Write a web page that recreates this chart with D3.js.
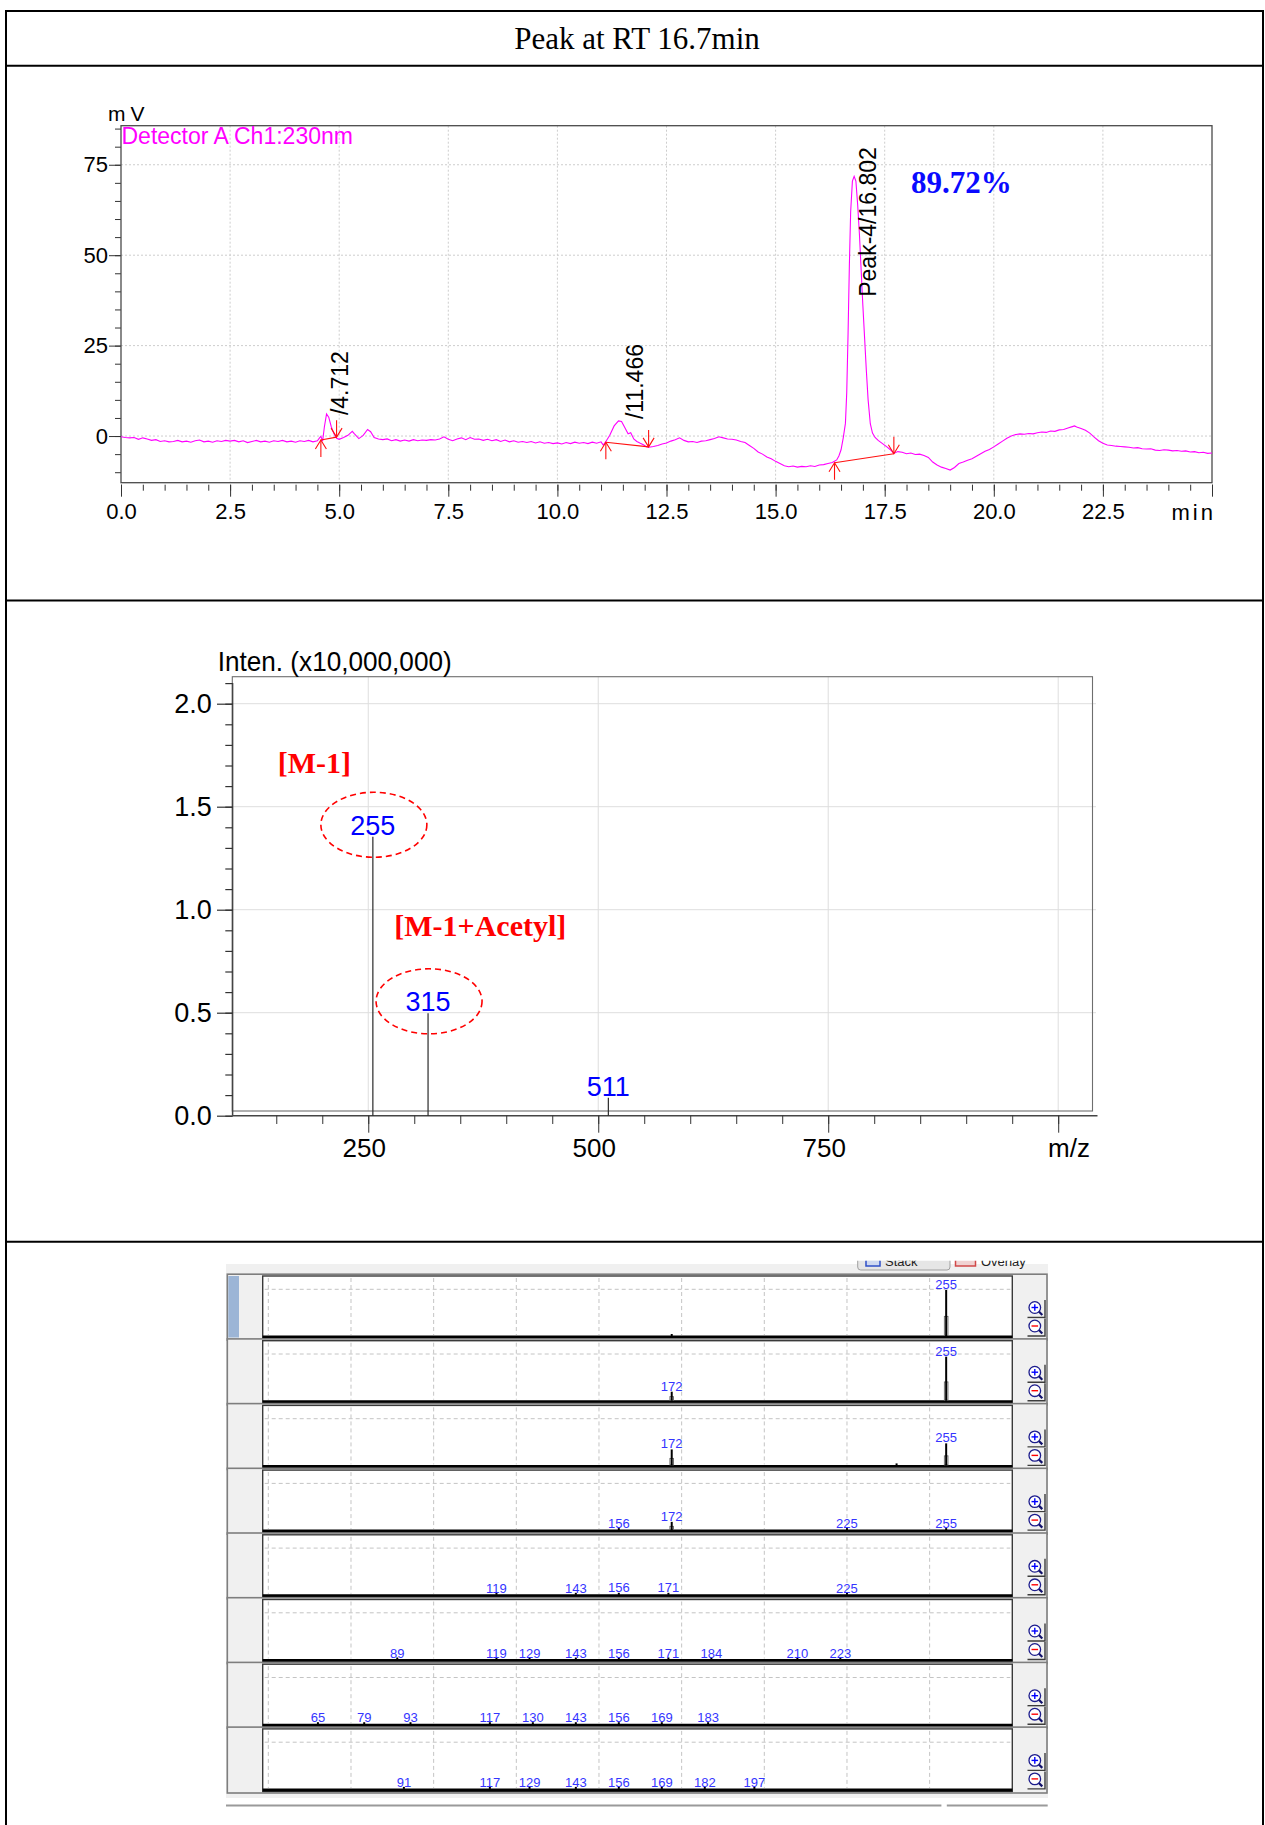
<!DOCTYPE html>
<html>
<head>
<meta charset="utf-8">
<script src="https://cdn.jsdelivr.net/npm/d3@7"></script>
<style>
  body { margin: 0; background: #fff; }
  svg { display: block; }
  text { font-family: "Liberation Sans", Arial, sans-serif; }
</style>
</head>
<body>
<svg id="fig" width="1265" height="1825"></svg>
<script>
// ---------------- data ----------------
const titleText = "Peak at RT 16.7min";

// HPLC trace, Detector A Ch1:230nm  [time (min), signal (mV)]
const chromTrace = [
  [0.0,-0.2],[0.1,-0.4],[0.2,-0.5],[0.3,-0.4],[0.4,-0.9],[0.5,-0.5],[0.6,-0.8],[0.7,-1.2],[0.8,-1.0],[0.9,-1.5],
  [1.0,-1.3],[1.1,-1.6],[1.2,-1.5],[1.3,-1.2],[1.4,-1.6],[1.5,-1.4],[1.6,-1.7],[1.7,-1.3],[1.8,-1.1],[1.9,-1.6],
  [2.0,-1.4],[2.1,-1.7],[2.2,-1.3],[2.3,-1.5],[2.4,-1.2],[2.5,-1.4],[2.6,-1.2],[2.7,-1.6],[2.8,-1.3],[2.9,-1.8],
  [3.0,-1.5],[3.1,-1.2],[3.2,-1.6],[3.3,-1.4],[3.4,-1.7],[3.5,-1.3],[3.6,-1.5],[3.7,-1.2],[3.8,-1.6],[3.9,-1.4],
  [4.0,-1.7],[4.1,-1.3],[4.2,-1.5],[4.3,-1.2],[4.4,-1.6],[4.5,-1.3],[4.55,-0.5],[4.58,-0.1],[4.62,-1.4],[4.66,2.5],
  [4.71,6.1],[4.76,5.2],[4.82,2.5],[4.88,0.6],[4.94,-0.6],[5.0,-0.9],[5.1,-0.4],[5.2,0.2],[5.3,1.3],[5.35,0.6],
  [5.45,-0.7],[5.55,0.2],[5.65,1.8],[5.72,1.2],[5.8,-0.4],[5.9,-0.8],[6.0,-1.0],[6.1,-0.8],[6.2,-1.3],[6.3,-1.0],
  [6.4,-1.4],[6.5,-1.1],[6.6,-1.4],[6.7,-1.0],[6.8,-1.3],[6.9,-1.1],[7.0,-1.2],[7.1,-1.0],[7.2,-1.1],[7.3,-0.8],
  [7.4,-0.2],[7.5,-0.9],[7.6,-1.3],[7.7,-0.8],[7.8,-0.5],[7.9,-1.0],[8.0,-0.4],[8.1,-0.9],[8.2,-0.8],[8.3,-1.2],
  [8.4,-0.9],[8.5,-1.3],[8.6,-1.0],[8.7,-1.5],[8.8,-1.1],[8.9,-1.6],[9.0,-1.3],[9.1,-1.7],[9.2,-1.5],[9.3,-1.8],
  [9.4,-1.5],[9.5,-1.9],[9.6,-1.6],[9.7,-2.0],[9.8,-1.8],[9.9,-2.1],[10.0,-1.9],[10.1,-2.2],[10.2,-1.8],[10.3,-2.1],
  [10.4,-1.7],[10.5,-2.0],[10.6,-1.8],[10.7,-2.1],[10.8,-1.7],[10.9,-2.0],[11.0,-1.6],[11.05,-2.5],[11.1,-1.7],[11.2,0.2],
  [11.3,2.8],[11.4,4.2],[11.47,4.0],[11.55,2.2],[11.62,0.6],[11.68,0.9],[11.75,-0.8],[11.82,-1.5],[11.9,-2.0],[11.97,-2.4],
  [12.05,-3.0],[12.1,-3.1],[12.2,-2.9],[12.3,-2.6],[12.4,-2.2],[12.5,-1.9],[12.6,-1.4],[12.7,-1.0],[12.8,-0.5],[12.9,-1.2],
  [13.0,-1.6],[13.1,-1.5],[13.2,-1.8],[13.3,-1.4],[13.4,-1.3],[13.5,-1.0],[13.6,-0.7],[13.7,-0.2],[13.8,-0.5],[13.9,-0.8],
  [14.0,-0.9],[14.1,-1.1],[14.2,-1.5],[14.3,-1.8],[14.4,-2.6],[14.5,-3.4],[14.6,-4.4],[14.7,-5.0],[14.8,-5.8],[14.9,-6.3],
  [15.0,-7.0],[15.1,-7.6],[15.2,-8.2],[15.3,-8.5],[15.4,-8.3],[15.5,-8.6],[15.6,-8.4],[15.7,-8.5],[15.8,-8.2],[15.9,-8.4],
  [16.0,-8.0],[16.1,-7.9],[16.2,-7.6],[16.3,-7.3],[16.4,-6.6],[16.45,-5.5],[16.5,-3.8],[16.55,-0.5],[16.6,3.5],[16.63,12],
  [16.66,28],[16.69,47],[16.72,62],[16.76,70.5],[16.8,71.8],[16.84,70.5],[16.88,64],[16.92,56],[16.96,46],[17.0,36],
  [17.04,27],[17.08,18],[17.12,10],[17.17,3.4],[17.22,0.8],[17.28,-0.4],[17.35,-1.2],[17.45,-2.1],[17.55,-3.0],[17.65,-4.0],
  [17.71,-4.8],[17.8,-4.3],[17.9,-4.5],[18.0,-4.9],[18.1,-4.7],[18.2,-5.1],[18.3,-5.0],[18.4,-5.4],[18.5,-5.9],[18.6,-7.2],
  [18.7,-8.0],[18.8,-8.6],[18.9,-9.0],[19.0,-9.4],[19.1,-8.7],[19.2,-7.6],[19.3,-7.2],[19.4,-6.7],[19.5,-6.3],[19.6,-5.6],
  [19.7,-4.9],[19.8,-4.2],[19.9,-3.7],[20.0,-3.0],[20.1,-2.2],[20.2,-1.4],[20.3,-0.6],[20.4,0.0],[20.5,0.4],[20.6,0.6],
  [20.7,0.5],[20.8,0.7],[20.9,0.6],[21.0,0.9],[21.1,1.1],[21.2,1.0],[21.3,1.4],[21.4,1.3],[21.5,1.7],[21.6,1.8],
  [21.7,2.2],[21.8,2.6],[21.85,2.8],[21.9,2.5],[22.0,2.1],[22.1,1.6],[22.2,0.8],[22.3,-0.3],[22.4,-1.3],[22.5,-2.0],
  [22.6,-2.5],[22.7,-2.6],[22.8,-2.8],[22.9,-2.9],[23.0,-3.0],[23.1,-3.1],[23.2,-3.3],[23.3,-3.2],[23.4,-3.5],[23.5,-3.6],
  [23.6,-3.5],[23.7,-3.9],[23.8,-4.0],[23.9,-3.8],[24.0,-3.9],[24.1,-4.1],[24.2,-4.0],[24.3,-4.2],[24.4,-4.1],[24.5,-4.4],
  [24.6,-4.3],[24.7,-4.6],[24.8,-4.5],[24.9,-4.8],[25.0,-4.7]
];
const chromXTicks = [0, 2.5, 5, 7.5, 10, 12.5, 15, 17.5, 20, 22.5];
const chromYTicks = [0, 25, 50, 75];
const peakRT = [4.712, 11.466, 16.802];
const peakLabels = ["/4.712", "/11.466", "Peak-4/16.802"];
const peakLabelBase = [5.8, 4.7, 38.5];          // mV level where each label starts
// integration baselines [t start, mV start, t end, mV end]
const integrationBaselines = [
  [4.58, -1.1, 4.94, -0.3],
  [11.11, -1.7, 12.09, -3.0],
  [16.35, -7.4, 17.71, -4.9]
];
const areaPercent = "89.72%";

// MS spectrum (intensity x10,000,000)
const msMz = [255, 315, 511];
const msIntensity = [1.354, 0.497, 0.087];
const msXTicks = [250, 500, 750];
const msYTicks = [0, 0.5, 1.0, 1.5, 2.0];
const msCircled = [255, 315];
const msAnnotations = ["[M-1]", "[M-1+Acetyl]"];

// MS/MS scan stack: [m/z, relative intensity %, labelled]
const scanRows = [
  [[172, 2, 0], [255, 100, 1]],
  [[172, 18.7, 1], [255, 95.6, 1]],
  [[172, 34, 1], [240, 3, 0], [255, 47.3, 1]],
  [[156, 0.5, 1], [172, 17, 1], [225, 0.5, 1], [255, 2, 1]],
  [[119, 1, 1], [143, 1, 1], [156, 2, 1], [171, 2, 1], [225, 1, 1]],
  [[89, 1, 1], [119, 1, 1], [129, 1, 1], [143, 1, 1], [156, 1, 1], [171, 1, 1], [184, 1, 1], [210, 1, 1], [223, 1, 1]],
  [[65, 1, 1], [79, 1, 1], [93, 1, 1], [117, 1, 1], [130, 1, 1], [143, 1, 1], [156, 1, 1], [169, 1, 1], [183, 1, 1]],
  [[91, 1, 1], [117, 1, 1], [129, 1, 1], [143, 1, 1], [156, 1, 1], [169, 1, 1], [182, 1, 1], [197, 1, 1]]
];
const scanGrid = [50, 75, 100, 125, 150, 175, 200, 225, 250];
const viewModes = ["Stack", "Overlay"];

// ---------------- drawing ----------------
const svg = d3.select("#fig");
const defs = svg.append("defs");

// table frame
const tbl = svg.append("g").attr("stroke", "#000").attr("stroke-width", 2);
[11, 65.7, 600.5, 1241.7].forEach(y =>
  tbl.append("line").attr("x1", 5).attr("x2", 1264).attr("y1", y).attr("y2", y));
[6, 1263].forEach(x =>
  tbl.append("line").attr("x1", x).attr("x2", x).attr("y1", 10).attr("y2", 1825));

svg.append("text").attr("x", 637).attr("y", 49).attr("text-anchor", "middle")
  .style("font-family", "'Liberation Serif','Times New Roman',serif")
  .style("font-size", "31px").text(titleText);

// ===== chromatogram =====
const C = { left: 121, right: 1212, top: 125.7, bottom: 482.7 };
const xC = d3.scaleLinear().domain([0, 25]).range([C.left, C.right]);
const yC = d3.scaleLinear().domain([-12.9, 85.8]).range([C.bottom, C.top]);
const gC = svg.append("g");

gC.append("g").selectAll("line").data(chromXTicks.filter(d => d > 0)).join("line")
  .attr("x1", d => xC(d)).attr("x2", d => xC(d)).attr("y1", C.top).attr("y2", C.bottom)
  .attr("stroke", "#cdcdcd").attr("stroke-dasharray", "2,2");
gC.append("g").selectAll("line").data(chromYTicks).join("line")
  .attr("x1", C.left).attr("x2", C.right).attr("y1", d => yC(d)).attr("y2", d => yC(d))
  .attr("stroke", "#cdcdcd").attr("stroke-dasharray", "2,2");

function styleAxis(g, size) {
  g.select(".domain").remove();
  g.selectAll(".tick line").attr("stroke", "#333");
  g.selectAll(".tick text").attr("fill", "#000").style("font-size", size + "px")
    .style("font-family", "'Liberation Sans', Arial, sans-serif");
}

gC.append("g").attr("transform", `translate(0,${C.bottom + 2})`)
  .call(d3.axisBottom(xC).tickValues(d3.range(0, 25.01, 0.5)).tickSize(6).tickFormat(""))
  .call(g => styleAxis(g, 22));
gC.append("g").attr("transform", `translate(0,${C.bottom + 2})`)
  .call(d3.axisBottom(xC).tickValues([...chromXTicks, 25]).tickSize(12).tickPadding(7)
    .tickFormat(d => d === 25 ? "" : d3.format(".1f")(d)))
  .call(g => styleAxis(g, 22));
gC.append("text").attr("x", 1216).attr("y", 519.5).attr("text-anchor", "end")
  .style("font-size", "22px").attr("letter-spacing", 3).text("min");

gC.append("g").attr("transform", `translate(${C.left},0)`)
  .call(d3.axisLeft(yC).tickValues(d3.range(-10, 86, 5)).tickSize(6).tickFormat(""))
  .call(g => styleAxis(g, 22));
gC.append("g").attr("transform", `translate(${C.left},0)`)
  .call(d3.axisLeft(yC).tickValues(chromYTicks).tickSize(12).tickPadding(1))
  .call(g => styleAxis(g, 22));

gC.append("rect").attr("x", C.left).attr("y", C.top)
  .attr("width", C.right - C.left).attr("height", C.bottom - C.top)
  .attr("fill", "none").attr("stroke", "#4a4a4a").attr("stroke-width", 1.3);

gC.append("text").attr("x", 108).attr("y", 120.5).style("font-size", "21px")
  .attr("letter-spacing", 5).text("mV");
gC.append("text").attr("x", 121.5).attr("y", 144).style("font-size", "23px")
  .attr("fill", "#ff00ff").text("Detector A Ch1:230nm");

defs.append("clipPath").attr("id", "clipC").append("rect")
  .attr("x", C.left).attr("y", C.top).attr("width", C.right - C.left).attr("height", C.bottom - C.top);
gC.append("path").datum(chromTrace)
  .attr("clip-path", "url(#clipC)")
  .attr("d", d3.line().x(d => xC(d[0])).y(d => yC(d[1])))
  .attr("fill", "none").attr("stroke", "#ff00ff").attr("stroke-width", 1.1);

// integration baselines with start / end markers
const gI = gC.append("g").attr("stroke", "#ff1010").attr("stroke-width", 1.1).attr("fill", "none");
integrationBaselines.forEach(b => {
  const x1 = xC(b[0]), y1 = yC(b[1]), x2 = xC(b[2]), y2 = yC(b[3]);
  gI.append("line").attr("x1", x1).attr("y1", y1).attr("x2", x2).attr("y2", y2);
  gI.append("line").attr("x1", x1).attr("y1", y1).attr("x2", x1).attr("y2", y1 + 17);
  gI.append("path").attr("d", `M${x1 - 5.5},${y1 + 9}L${x1},${y1}L${x1 + 5.5},${y1 + 9}`);
  gI.append("line").attr("x1", x2).attr("y1", y2 - 17).attr("x2", x2).attr("y2", y2);
  gI.append("path").attr("d", `M${x2 - 5.5},${y2 - 9}L${x2},${y2}L${x2 + 5.5},${y2 - 9}`);
});

peakRT.forEach((rt, i) => {
  const x = xC(rt) + 21.5, y = yC(peakLabelBase[i]);
  gC.append("text").attr("x", x).attr("y", y).attr("transform", `rotate(-90,${x},${y})`)
    .style("font-size", "23px").attr("fill", "#000").text(peakLabels[i]);
});

gC.append("text").attr("x", 911).attr("y", 192.7)
  .style("font-family", "'Liberation Serif','Times New Roman',serif")
  .style("font-size", "31px").style("font-weight", "bold").attr("fill", "#0a0aff").text(areaPercent);

// ===== mass spectrum =====
const M = { left: 232.3, right: 1092.5, top: 676.7, bottom: 1111, axisY: 1115.7, axisX: 232.6 };
const xM = d3.scaleLinear().domain([102.2, 1037.3]).range([M.left, M.right]);
const yM = d3.scaleLinear().domain([0, 2]).range([M.axisY, M.axisY - 412]);
const gM = svg.append("g");

gM.append("g").selectAll("line").data(msYTicks.filter(d => d > 0)).join("line")
  .attr("x1", M.left).attr("x2", 1096).attr("y1", d => yM(d)).attr("y2", d => yM(d))
  .attr("stroke", "#dedede");
gM.append("g").selectAll("line").data([...msXTicks, 1000]).join("line")
  .attr("x1", d => xM(d)).attr("x2", d => xM(d)).attr("y1", M.top).attr("y2", M.bottom)
  .attr("stroke", "#dedede");
gM.append("rect").attr("x", M.left).attr("y", M.top)
  .attr("width", M.right - M.left).attr("height", M.bottom - M.top)
  .attr("fill", "none").attr("stroke", "#6e6e6e").attr("stroke-width", 1.1);

gM.append("line").attr("x1", M.axisX).attr("x2", M.axisX).attr("y1", yM(2.1)).attr("y2", M.axisY)
  .attr("stroke", "#444").attr("stroke-width", 1.5);
gM.append("line").attr("x1", M.axisX).attr("x2", 1097.5).attr("y1", M.axisY).attr("y2", M.axisY)
  .attr("stroke", "#444").attr("stroke-width", 1.5);

gM.append("g").attr("transform", `translate(${M.axisX},0)`)
  .call(d3.axisLeft(yM).tickValues(d3.range(0, 2.15, 0.1)).tickSize(7.3).tickFormat(""))
  .call(g => styleAxis(g, 27));
gM.append("g").attr("transform", `translate(${M.axisX},0)`)
  .call(d3.axisLeft(yM).tickValues(msYTicks).tickSize(15.6).tickPadding(5.3).tickFormat(d3.format(".1f")))
  .call(g => styleAxis(g, 27));
gM.selectAll("g.tick line").attr("stroke-width", 1.2);

gM.append("g").attr("transform", `translate(0,${M.axisY})`)
  .call(d3.axisBottom(xM).tickValues(d3.range(150, 1001, 50)).tickSize(8.3).tickFormat(""))
  .call(g => styleAxis(g, 26));
const xAxM = gM.append("g").attr("transform", `translate(0,${M.axisY})`)
  .call(d3.axisBottom(xM).tickValues([...msXTicks, 1000]).tickSize(17).tickPadding(2)
    .tickFormat(d => d === 1000 ? "" : d))
  .call(g => styleAxis(g, 26));
xAxM.selectAll(".tick text").attr("dx", -4.5).attr("y", 41).attr("dy", null);
gM.append("text").attr("x", 1090).attr("y", 1156.7).attr("text-anchor", "end")
  .style("font-size", "26px").text("m/z");

gM.append("text").attr("x", 217.7).attr("y", 670.7).style("font-size", "28px")
  .attr("textLength", 234).attr("lengthAdjust", "spacingAndGlyphs").text("Inten. (x10,000,000)");

gM.append("g").selectAll("line").data(msMz).join("line")
  .attr("x1", d => xM(d)).attr("x2", d => xM(d))
  .attr("y1", (d, i) => yM(msIntensity[i])).attr("y2", M.axisY)
  .attr("stroke", "#2a2a2a").attr("stroke-width", 1.2);
gM.append("g").selectAll("text").data(msMz).join("text")
  .attr("x", d => xM(d)).attr("y", (d, i) => yM(msIntensity[i]) - 2)
  .attr("text-anchor", "middle").style("font-size", "27px").attr("fill", "#0000ff")
  .text(d => d);

msCircled.forEach(mz => {
  const i = msMz.indexOf(mz);
  gM.append("ellipse").attr("cx", xM(mz) + 1).attr("cy", yM(msIntensity[i]) - 12)
    .attr("rx", 53).attr("ry", 32.5).attr("fill", "none")
    .attr("stroke", "#ff0000").attr("stroke-width", 1.6).attr("stroke-dasharray", "6,4");
});
const annSpec = [[277.7, 773.3], [394.3, 936]];
msAnnotations.forEach((t, i) => {
  gM.append("text").attr("x", annSpec[i][0]).attr("y", annSpec[i][1])
    .style("font-family", "'Liberation Serif','Times New Roman',serif")
    .style("font-size", "30px").style("font-weight", "bold").attr("fill", "#ff0000").text(t);
});

// ===== MS/MS scan stack (software view) =====
const S = { left: 262.7, right: 1012.3, gutL: 227.3, gutR: 1047, top0: 1276, pitch: 64.7, h: 62.5 };
const xS = d3.scaleLinear().domain([48.3, 275]).range([S.left, S.right]);
const gS = svg.append("g");

gS.append("rect").attr("x", 226).attr("y", 1264).attr("width", 822).attr("height", 534).attr("fill", "#f0f0f0");

// view mode buttons, partly cut at the top edge
defs.append("clipPath").attr("id", "clipTop").append("rect")
  .attr("x", 800).attr("y", 1260.7).attr("width", 300).attr("height", 20);
const gL = gS.append("g").attr("clip-path", "url(#clipTop)");
gL.append("rect").attr("x", 857.7).attr("y", 1250).attr("width", 92.3).attr("height", 20).attr("rx", 3)
  .attr("fill", "#e6e6e6").attr("stroke", "#a0a0a0");
gL.append("rect").attr("x", 866).attr("y", 1254).attr("width", 14).attr("height", 12)
  .attr("fill", "#cfd9f0").attr("stroke", "#2f4fc8").attr("stroke-width", 1.5);
gL.append("rect").attr("x", 955.5).attr("y", 1254).attr("width", 20).attr("height", 12)
  .attr("fill", "#f0d2d2").attr("stroke", "#d04848").attr("stroke-width", 1.5);
gL.append("text").attr("x", 885).attr("y", 1265.5).style("font-size", "13px").attr("fill", "#222").text(viewModes[0]);
gL.append("text").attr("x", 981).attr("y", 1265.5).style("font-size", "13px").attr("fill", "#222").text(viewModes[1]);

scanRows.forEach((peaks, i) => {
  const top = S.top0 + i * S.pitch;
  const yS = d3.scaleLinear().domain([0, 100]).range([top + 59.5, top + 14]);
  const g = gS.append("g");

  g.append("rect").attr("x", S.gutL).attr("y", top - 1.8).attr("width", S.gutR - S.gutL).attr("height", S.h + 3.4)
    .attr("fill", "#f0f0f0").attr("stroke", "#7e7e7e").attr("stroke-width", 1.6);
  if (i === 0) g.append("rect").attr("x", 228.3).attr("y", top).attr("width", 10.7).attr("height", S.h - 1)
    .attr("fill", "#9cb5d6");

  g.append("rect").attr("x", S.left).attr("y", top).attr("width", S.right - S.left).attr("height", S.h)
    .attr("fill", "#fff").attr("stroke", "#3a3a3a").attr("stroke-width", 1.4);

  g.append("g").selectAll("line").data(scanGrid).join("line")
    .attr("x1", d => xS(d)).attr("x2", d => xS(d)).attr("y1", top + 2).attr("y2", top + 59)
    .attr("stroke", "#c4c4c4").attr("stroke-dasharray", "4,3");
  g.append("line").attr("x1", S.left + 2).attr("x2", S.right - 2).attr("y1", top + 13.3).attr("y2", top + 13.3)
    .attr("stroke", "#c4c4c4").attr("stroke-dasharray", "4,3");

  g.append("line").attr("x1", S.left).attr("x2", S.right).attr("y1", top + 61).attr("y2", top + 61)
    .attr("stroke", "#000").attr("stroke-width", 3);

  peaks.forEach(p => {
    const x = xS(p[0]), y0 = yS(0), y1 = yS(p[1]);
    if (p[1] >= 8) {
      g.append("rect").attr("x", x - 1.8).attr("y", y0 - (y0 - y1) * 0.42).attr("width", 3.6)
        .attr("height", (y0 - y1) * 0.42).attr("fill", "none").attr("stroke", "#666").attr("stroke-width", 0.9);
    }
    g.append("line").attr("x1", x).attr("x2", x).attr("y1", Math.min(y1, y0 - 1.5)).attr("y2", y0 + 0.5)
      .attr("stroke", "#000").attr("stroke-width", 2);
    if (p[2]) g.append("text").attr("x", x).attr("y", y1 - 1).attr("text-anchor", "middle")
      .style("font-size", "13px").attr("fill", "#3434ff").text(p[0]);
  });

  // zoom in / zoom out buttons
  [["+", "#0000ff", top + 24], ["-", "#ff0000", top + 42.5]].forEach(([sym, col, by]) => {
    const bx = 1027.5, bs = 17.5;
    g.append("rect").attr("x", bx).attr("y", by).attr("width", bs).attr("height", bs).attr("fill", "#f0f0f0");
    g.append("path").attr("d", `M${bx + bs},${by}V${by + bs}H${bx}`).attr("fill", "none")
      .attr("stroke", "#3c3c3c").attr("stroke-width", 1.4);
    const cx = bx + 7.3, cy = by + 7.5;
    g.append("line").attr("x1", cx + 3.8).attr("y1", cy + 3.8).attr("x2", cx + 7.5).attr("y2", cy + 7.5)
      .attr("stroke", "#10106a").attr("stroke-width", 2.2);
    g.append("circle").attr("cx", cx).attr("cy", cy).attr("r", 5.8).attr("fill", "#fff")
      .attr("stroke", "#1c1c8c").attr("stroke-width", 1.3);
    g.append("line").attr("x1", cx - 3.3).attr("x2", cx + 3.3).attr("y1", cy).attr("y2", cy)
      .attr("stroke", col).attr("stroke-width", 1.4);
    if (sym === "+") g.append("line").attr("x1", cx).attr("x2", cx).attr("y1", cy - 3.3).attr("y2", cy + 3.3)
      .attr("stroke", col).attr("stroke-width", 1.4);
  });
});

// bottom scroll bar
gS.append("line").attr("x1", 226).attr("x2", 941.4).attr("y1", 1805.5).attr("y2", 1805.5)
  .attr("stroke", "#9a9a9a").attr("stroke-width", 2);
gS.append("line").attr("x1", 946.8).attr("x2", 1047.7).attr("y1", 1805.5).attr("y2", 1805.5)
  .attr("stroke", "#9a9a9a").attr("stroke-width", 2);
</script>
</body>
</html>
